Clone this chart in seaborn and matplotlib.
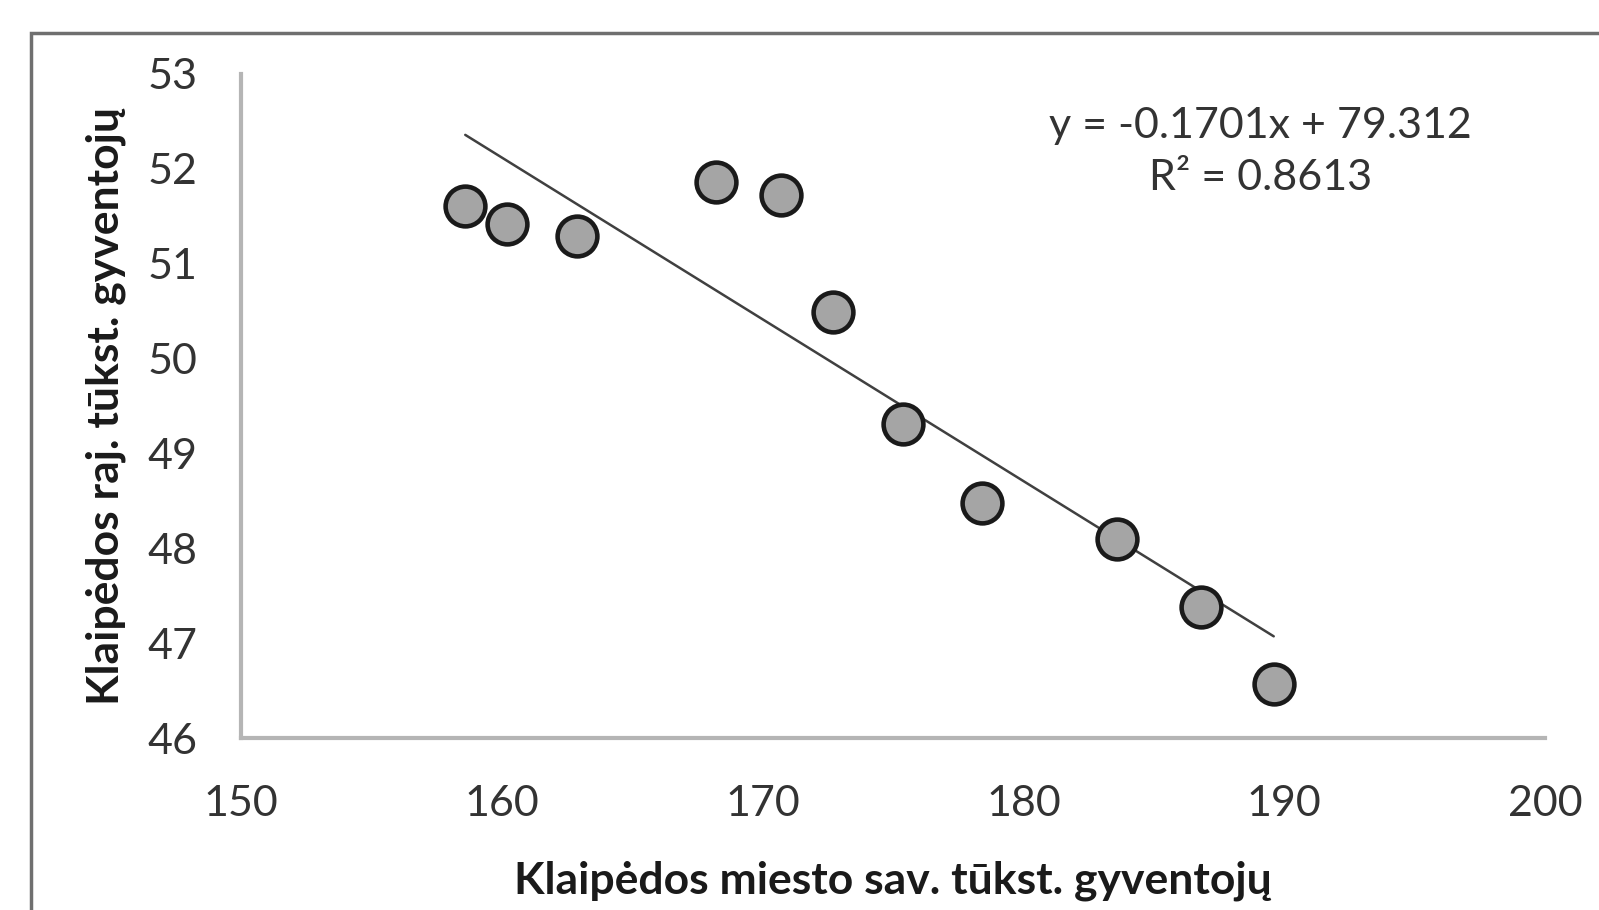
import seaborn as sns
import pandas as pd
import matplotlib.pyplot as plt
from matplotlib.patches import Rectangle

# values
city = [158.6, 160.2, 162.9, 168.2, 170.7, 172.7, 175.4, 178.4, 183.6, 186.8, 189.6]
district = [51.61, 51.42, 51.29, 51.86, 51.72, 50.49, 49.31, 48.48, 48.10, 47.38, 46.57]
x_ticks = [150, 160, 170, 180, 190, 200]
y_ticks = [46, 47, 48, 49, 50, 51, 52, 53]
eq_text = "y = -0.1701x + 79.312\nR² = 0.8613"

df = pd.DataFrame({"city": city, "district": district})

sns.set_style("white")
plt.rcParams['font.family'] = ['Lato', 'DejaVu Sans']

fig = plt.figure(figsize=(15.99, 9.10), dpi=100)
ax = fig.add_axes([0.1507, 0.189, 0.8155, 0.7297])

# outer chart border (cut off at right and bottom like the screenshot)
fig.patches.append(Rectangle((0.0195, -0.1), 1.2, 1.064, transform=fig.transFigure,
                             fill=False, edgecolor="#6f6f6f", linewidth=2.5))

sns.regplot(data=df, x="city", y="district", ax=ax, ci=None, truncate=True,
            scatter_kws=dict(s=820, color="#a5a5a5", edgecolors="#1a1a1a",
                             linewidths=3.3, alpha=1, zorder=3),
            line_kws=dict(color="#404040", linewidth=1.8, zorder=2))

ax.set_xlim(150, 200)
ax.set_ylim(46, 53)
ax.set_xticks(x_ticks)
ax.set_yticks(y_ticks)
ax.tick_params(axis="both", labelsize=31, colors="#b5b5b5", labelcolor="#333333",
               length=9, width=2.5, direction="out")
ax.tick_params(axis="x", pad=25)
ax.tick_params(axis="y", pad=22)

for s in ["top", "right"]:
    ax.spines[s].set_visible(False)
for s in ["left", "bottom"]:
    ax.spines[s].set_color("#b5b5b5")
    ax.spines[s].set_linewidth(3)

ax.set_xlabel("Klaipėdos miesto sav. tūkst. gyventojų", fontsize=32,
              fontweight="bold", color="#1a1a1a", labelpad=27)
ax.set_ylabel("Klaipėdos raj. tūkst. gyventojų", fontsize=32,
              fontweight="bold", color="#1a1a1a", labelpad=16)

ax.text(0.782, 0.882, eq_text, transform=ax.transAxes, ha="center", va="center",
        fontsize=31, color="#333333", linespacing=1.45)

fig.savefig("out.png", dpi=100)
